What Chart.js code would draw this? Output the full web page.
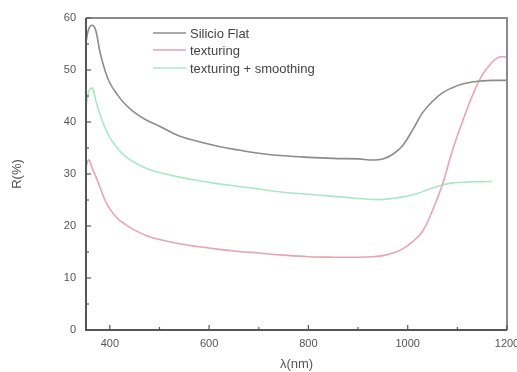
<!DOCTYPE html>
<html>
<head>
<meta charset="utf-8">
<script src="https://cdn.jsdelivr.net/npm/chart.js@4.4.1/dist/chart.umd.min.js"></script>
<style>
    html, body { margin: 0; padding: 0; background: #fff; }
    #wrap { width: 517px; height: 372px; }
</style>
</head>
<body>
<div id="wrap"><canvas id="reflChart" width="517" height="372"></canvas></div>
<script>
// wavelength (nm)
const wavelengths = [352, 358, 365, 372, 380, 390, 400, 415, 430, 450, 475, 500, 540, 580, 620, 660, 700, 750, 800, 850, 900, 930, 950, 970, 990, 1010, 1030, 1050, 1070, 1090, 1110, 1130, 1150, 1170, 1185, 1200];

// reflectance R(%)
const silicioFlat = [55.5, 58, 58.6, 57.5, 53.5, 50, 47.5, 45.3, 43.5, 41.8, 40.3, 39.2, 37.3, 36.2, 35.3, 34.6, 34, 33.5, 33.2, 33, 32.9, 32.7, 32.9, 33.8, 35.5, 38.5, 41.8, 44, 45.6, 46.6, 47.3, 47.7, 47.9, 48, 48, 48];
const texturing = [31.5, 32.7, 31, 29.5, 27.5, 25, 23.3, 21.5, 20.4, 19.2, 18.1, 17.4, 16.6, 16, 15.5, 15.1, 14.8, 14.4, 14.1, 14, 14, 14.1, 14.3, 14.8, 15.6, 17, 19, 23, 28, 34.5, 40, 45, 49, 51.5, 52.5, 52.5];
const texturingSmoothing = [43, 46, 46.5, 44, 41.5, 39, 37, 35, 33.5, 32.2, 31, 30.3, 29.4, 28.7, 28.1, 27.6, 27.1, 26.5, 26.1, 25.7, 25.3, 25.1, 25.1, 25.3, 25.6, 26, 26.6, 27.3, 27.9, 28.3, 28.4, 28.5, 28.5, 28.6, null, null];

const seriesNames = ["Silicio Flat", "texturing", "texturing + smoothing"];
const seriesColors = ["#8c8c8c", "#eaa3b4", "#a9e8c6"];

const yTicks = [0, 10, 20, 30, 40, 50, 60];
const xTicks = [400, 600, 800, 1000, 1200];

const FONT = "'Liberation Sans', Arial, sans-serif";

function toPoints(values) {
    return wavelengths.map((w, i) => ({ x: w, y: values[i] }));
}

// frame, inward ticks and legend drawn over the plot
const framePlugin = {
    id: "frame",
    afterDatasetsDraw(chart) {
        const ctx = chart.ctx;
        const area = chart.chartArea;
        const xs = chart.scales.x;
        const ys = chart.scales.y;
        ctx.save();

        // top and right edges (lighter)
        ctx.strokeStyle = "#8a8a8a";
        ctx.lineWidth = 2;
        ctx.beginPath();
        ctx.moveTo(area.left, area.top);
        ctx.lineTo(area.right, area.top);
        ctx.lineTo(area.right, area.bottom);
        ctx.stroke();

        // left and bottom axes
        ctx.strokeStyle = "#555";
        ctx.beginPath();
        ctx.moveTo(area.left, area.top);
        ctx.lineTo(area.left, area.bottom);
        ctx.lineTo(area.right, area.bottom);
        ctx.stroke();

        // ticks pointing inward
        ctx.lineWidth = 1.2;
        ctx.strokeStyle = "#555";
        for (let v = 0; v <= 60; v += 5) {
            const y = ys.getPixelForValue(v);
            const len = v % 10 === 0 ? 5 : 3;
            ctx.beginPath();
            ctx.moveTo(area.left, y);
            ctx.lineTo(area.left + len, y);
            ctx.stroke();
        }
        for (let v = 400; v <= 1200; v += 100) {
            const x = xs.getPixelForValue(v);
            const len = v % 200 === 0 ? 5 : 3;
            ctx.beginPath();
            ctx.moveTo(x, area.bottom);
            ctx.lineTo(x, area.bottom - len);
            ctx.stroke();
        }

        // legend
        ctx.font = "13px " + FONT;
        ctx.textBaseline = "middle";
        ctx.fillStyle = "#444";
        const rows = [33, 50, 68];
        chart.data.datasets.forEach((ds, i) => {
            ctx.strokeStyle = ds.borderColor;
            ctx.lineWidth = 1.5;
            ctx.beginPath();
            ctx.moveTo(153, rows[i]);
            ctx.lineTo(186, rows[i]);
            ctx.stroke();
            ctx.fillText(ds.label, 190, rows[i] + 1);
        });
        ctx.restore();
    }
};

document.addEventListener("DOMContentLoaded", function () {
    const ctx = document.getElementById("reflChart").getContext("2d");

    new Chart(ctx, {
        type: "line",
        data: {
            datasets: seriesNames.map((name, i) => ({
                label: name,
                data: toPoints([silicioFlat, texturing, texturingSmoothing][i]),
                borderColor: seriesColors[i],
                borderWidth: 1.6,
                pointRadius: 0,
                tension: 0.4,
                spanGaps: false,
            })),
        },
        options: {
            responsive: false,
            animation: false,
            layout: { padding: { top: 18, right: 10, left: 0, bottom: 0 } },
            plugins: {
                legend: { display: false },
                tooltip: { enabled: false },
            },
            scales: {
                x: {
                    type: "linear",
                    min: 352,
                    max: 1200,
                    grid: { display: false, drawTicks: false },
                    border: { display: false },
                    afterBuildTicks: (scale) => {
                        scale.ticks = xTicks.map((v) => ({ value: v }));
                    },
                    afterFit: (scale) => {
                        scale.height = 42;
                        scale.paddingLeft = 0;
                        scale.paddingRight = 0;
                    },
                    ticks: {
                        padding: 7,
                        color: "#555",
                        font: { family: FONT, size: 11 },
                        callback: (v) => String(v),
                    },
                    title: {
                        display: true,
                        text: "λ(nm)",
                        color: "#555",
                        font: { family: FONT, size: 13 },
                        padding: { top: 0, bottom: 0 },
                    },
                },
                y: {
                    min: 0,
                    max: 60,
                    grid: { display: false, drawTicks: false },
                    border: { display: false },
                    afterBuildTicks: (scale) => {
                        scale.ticks = yTicks.map((v) => ({ value: v }));
                    },
                    afterFit: (scale) => {
                        scale.width = 86;
                        scale.paddingTop = 0;
                        scale.paddingBottom = 0;
                    },
                    ticks: {
                        padding: 10,
                        color: "#555",
                        font: { family: FONT, size: 11 },
                    },
                    title: {
                        display: true,
                        text: "R(%)",
                        color: "#555",
                        font: { family: FONT, size: 13 },
                        padding: { top: 10, bottom: 0 },
                    },
                },
            },
        },
        plugins: [framePlugin],
    });
});
</script>
</body>
</html>
